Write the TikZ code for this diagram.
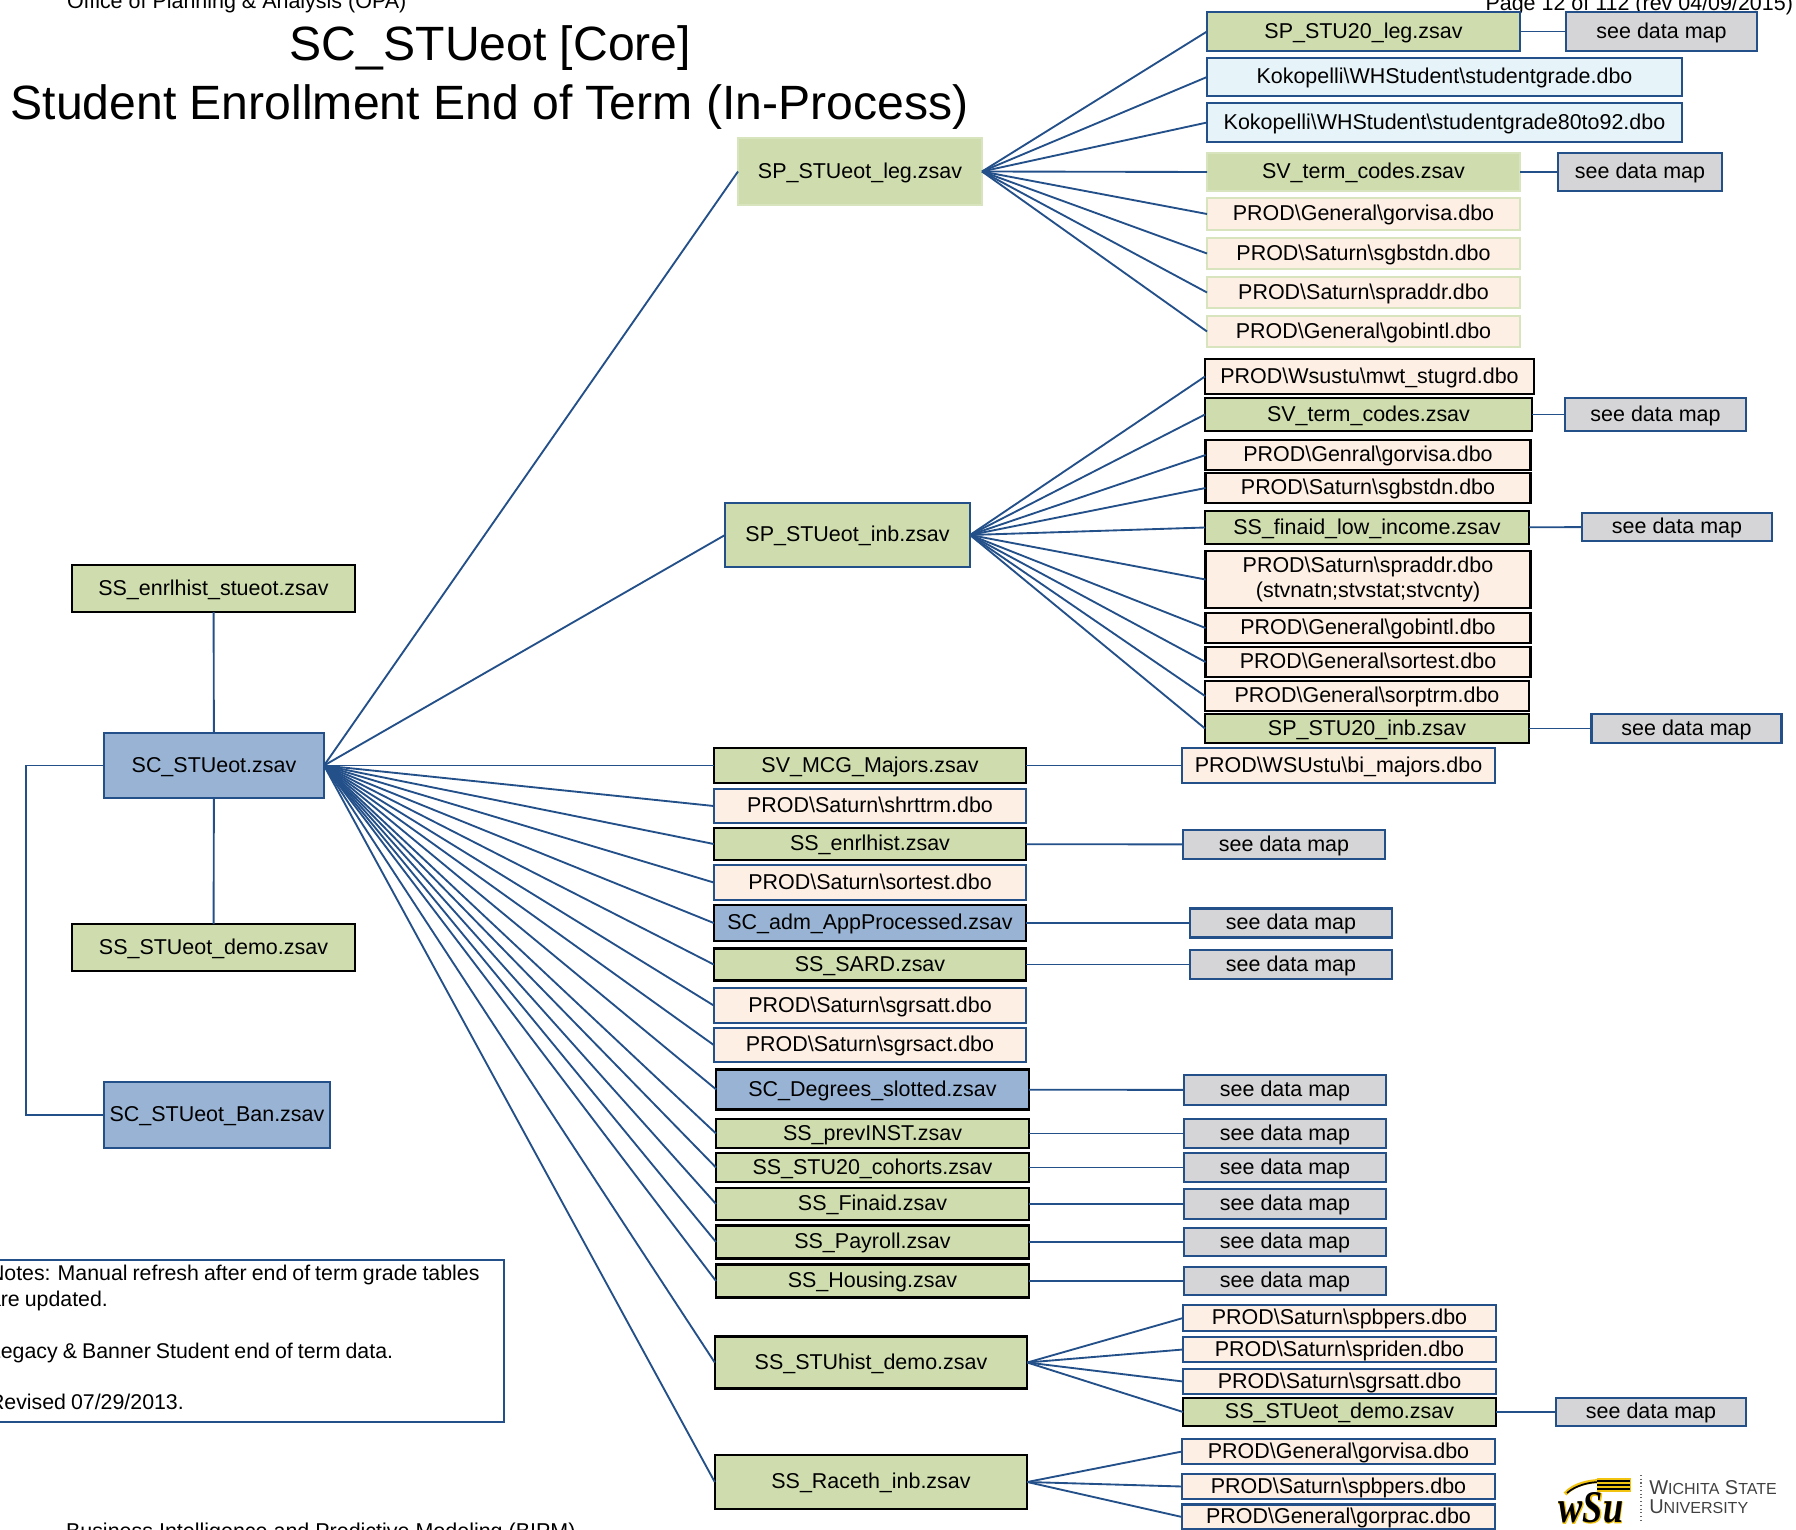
\documentclass[tikz,border=0pt]{standalone}
\usepackage{fontspec}
\setmainfont{Liberation Sans}
\newfontfamily\notesfont[WordSpace=0.85]{Liberation Sans}
\newfontfamily\wsuserif[FakeStretch=0.8]{Liberation Serif}
\newfontfamily\wsuhalo[FakeStretch=0.8,FakeBold=2.5]{Liberation Serif}
\usepackage{tikz}
\usetikzlibrary{arrows.meta}
\usetikzlibrary{calc}
\definecolor{linecol}{HTML}{24508A}
\definecolor{grnfill}{HTML}{CFDDAE}
\definecolor{orgfill}{HTML}{FDEFE3}
\definecolor{blufill}{HTML}{98B3D4}
\definecolor{skyfill}{HTML}{E6F3F8}
\definecolor{gryfill}{HTML}{D5D5D7}
\definecolor{palegrn}{HTML}{D8E4BE}
\definecolor{wsugold}{HTML}{F2C40F}
\newcommand{\bs}{\textbackslash}
\tikzset{
    sz/.style 2 args={minimum width=#1*0.75pt,minimum height=#2*0.75pt},
    tbl/.style={draw=linecol,line width=1.6pt,inner sep=0pt,outer sep=0pt,align=center,
        text height=11pt,text depth=1pt,font=\fontsize{16.1}{19}\selectfont},
    grn/.style={tbl,fill=grnfill},
    org/.style={tbl,fill=orgfill},
    blu/.style={tbl,fill=blufill},
    sky/.style={tbl,fill=skyfill},
    gry/.style={tbl,fill=gryfill},
    bk/.style={draw=black},
    pale/.style={draw=palegrn},
    multi/.style={text height={},text depth={}},
    plain/.style={inner sep=0pt,outer sep=0pt,font=\fontsize{16.1}{19}\selectfont}
}

\begin{document}
\begin{tikzpicture}[x=0.75pt,y=-0.75pt]
        \useasboundingbox (0,0) rectangle (1796,1530);

        \node[plain,anchor=base west] (office) at (67,8.5) {Office of Planning \& Analysis (OPA)};
        \node[plain,anchor=base east] (page) at (1793,11) {Page 12 of 112 (rev 04/09/2015)};
        \node[plain,anchor=base west] (bipm) at (66,1538) {Business Intelligence and Predictive Modeling (BIPM)};
        \node[plain,font=\fontsize{36.1}{36}\selectfont] (title) at (490.5,48.5) {SC\_STUeot [Core]};
        \node[plain,font=\fontsize{36.1}{36}\selectfont] (subtitle) at (489.5,107) {Student Enrollment End of Term (In-Process)};

        \node[grn,bk,sz={283}{47}] (enrlstu) at (213.5,588.5) {SS\_enrlhist\_stueot.zsav};
        \node[blu,sz={220}{65}] (core) at (214,765.5) {SC\_STUeot.zsav};
        \node[grn,bk,sz={283}{47}] (demo) at (213.5,947.5) {SS\_STUeot\_demo.zsav};
        \node[blu,sz={226}{66}] (ban) at (217,1115) {SC\_STUeot\_Ban.zsav};
        \coordinate (lft) at (26,765.5);

        \node[tbl,multi,sz={524}{162},text width=506*0.75pt,align=flush left,
            font=\notesfont\fontsize{16}{19.3}\selectfont] (notes) at (242,1341)
            {Notes: Manual refresh after end of term grade tables\\are updated.\\[19.3pt]Legacy \& Banner Student end of term data.\\[19.3pt]Revised 07/29/2013.\\[-14pt]\mbox{}};

        \node[grn,pale,sz={244}{67}] (leg) at (860,171.5) {SP\_STUeot\_leg.zsav};
        \node[grn,sz={313}{39}] (stulg) at (1363.5,31.5) {SP\_STU20\_leg.zsav};
        \node[gry,sz={191}{39}] (map1) at (1661.5,31.5) {see data map};
        \node[sky,sz={475}{38}] (koko1) at (1444.5,77) {Kokopelli\bs{}WHStudent\bs{}studentgrade.dbo};
        \node[sky,sz={475}{39}] (koko2) at (1444.5,122.5) {Kokopelli\bs{}WHStudent\bs{}studentgrade80to92.dbo};
        \node[grn,pale,sz={313}{38}] (lgterm) at (1363.5,172) {SV\_term\_codes.zsav};
        \node[gry,sz={164}{38}] (map2) at (1640,172) {see data map};
        \node[org,pale,sz={313}{32}] (lggorv) at (1363.5,214) {PROD\bs{}General\bs{}gorvisa.dbo};
        \node[org,pale,sz={313}{31}] (lgsgb) at (1363.5,253.5) {PROD\bs{}Saturn\bs{}sgbstdn.dbo};
        \node[org,pale,sz={313}{31}] (lgspr) at (1363.5,292.5) {PROD\bs{}Saturn\bs{}spraddr.dbo};
        \node[org,pale,sz={313}{31}] (lggob) at (1363.5,331.5) {PROD\bs{}General\bs{}gobintl.dbo};

        \node[grn,sz={245}{64}] (inb) at (847.5,535) {SP\_STUeot\_inb.zsav};
        \node[org,bk,sz={329}{35}] (wsu) at (1369.5,376.5) {PROD\bs{}Wsustu\bs{}mwt\_stugrd.dbo};
        \node[grn,bk,sz={327}{33}] (ibterm) at (1368.5,414.5) {SV\_term\_codes.zsav};
        \node[gry,sz={181}{33}] (map3) at (1655.5,414.5) {see data map};
        \node[org,bk,sz={325}{30}] (ibgorv) at (1368,455) {PROD\bs{}Genral\bs{}gorvisa.dbo};
        \node[org,bk,sz={325}{30}] (ibsgb) at (1368,488) {PROD\bs{}Saturn\bs{}sgbstdn.dbo};
        \node[grn,bk,sz={324}{33}] (low) at (1367,527.5) {SS\_finaid\_low\_income.zsav};
        \node[gry,sz={190}{28}] (map4) at (1677,527) {see data map};
        \node[org,bk,multi,sz={325}{57}] (ibspr) at (1368,579.5) {PROD\bs{}Saturn\bs{}spraddr.dbo\\(stvnatn;stvstat;stvcnty)};
        \node[org,bk,sz={325}{30}] (ibgob) at (1368,628) {PROD\bs{}General\bs{}gobintl.dbo};
        \node[org,bk,sz={325}{30}] (ibsrt) at (1368,662) {PROD\bs{}General\bs{}sortest.dbo};
        \node[org,bk,sz={324}{30}] (ibtrm) at (1367,696) {PROD\bs{}General\bs{}sorptrm.dbo};
        \node[grn,bk,sz={324}{29}] (stuib) at (1367,728.5) {SP\_STU20\_inb.zsav};
        \node[gry,sz={190}{29}] (map5) at (1686.5,728.5) {see data map};

        \node[grn,bk,sz={312.5}{35}] (mcg) at (870,765.5) {SV\_MCG\_Majors.zsav};
        \node[org,sz={313}{35}] (majors) at (1338.5,765.5) {PROD\bs{}WSUstu\bs{}bi\_majors.dbo};
        \node[org,sz={312.5}{34}] (shrt) at (870,806) {PROD\bs{}Saturn\bs{}shrttrm.dbo};
        \node[grn,bk,sz={312.5}{32}] (enrl) at (870,844) {SS\_enrlhist.zsav};
        \node[gry,sz={202}{29}] (map6) at (1284,844.5) {see data map};
        \node[org,sz={312.5}{35}] (srt) at (870,882.5) {PROD\bs{}Saturn\bs{}sortest.dbo};
        \node[blu,bk,sz={312.5}{36}] (adm) at (870,923) {SC\_adm\_AppProcessed.zsav};
        \node[gry,sz={202}{29}] (map7) at (1291,923) {see data map};
        \node[grn,bk,sz={312.5}{32}] (sard) at (870,964.5) {SS\_SARD.zsav};
        \node[gry,sz={202}{29}] (map8) at (1291,964.5) {see data map};
        \node[org,sz={312.5}{35}] (satt) at (870,1005.5) {PROD\bs{}Saturn\bs{}sgrsatt.dbo};
        \node[org,sz={312.5}{34}] (sact) at (870,1045) {PROD\bs{}Saturn\bs{}sgrsact.dbo};
        \node[blu,bk,sz={312.5}{40}] (deg) at (872.5,1089.5) {SC\_Degrees\_slotted.zsav};
        \node[gry,sz={202}{30}] (map9) at (1285,1090) {see data map};
        \node[grn,bk,sz={313}{29}] (prev) at (872.5,1133.5) {SS\_prevINST.zsav};
        \node[gry,sz={202}{29}] (map10) at (1285,1133.5) {see data map};
        \node[grn,bk,sz={313}{29}] (coh) at (872.5,1167.5) {SS\_STU20\_cohorts.zsav};
        \node[gry,sz={202}{29}] (map11) at (1285,1167.5) {see data map};
        \node[grn,bk,sz={313}{32}] (fin) at (872.5,1204) {SS\_Finaid.zsav};
        \node[gry,sz={202}{30}] (map12) at (1285,1204) {see data map};
        \node[grn,bk,sz={313}{33}] (pay) at (872.5,1242) {SS\_Payroll.zsav};
        \node[gry,sz={202}{28}] (map13) at (1285,1242) {see data map};
        \node[grn,bk,sz={313}{33}] (hou) at (872.5,1281) {SS\_Housing.zsav};
        \node[gry,sz={202}{28}] (map14) at (1285,1281) {see data map};

        \node[grn,bk,sz={312.5}{52}] (hist) at (871,1362.5) {SS\_STUhist\_demo.zsav};
        \node[org,sz={313}{26}] (hspb) at (1339.5,1318) {PROD\bs{}Saturn\bs{}spbpers.dbo};
        \node[org,sz={313}{25}] (hspr) at (1339.5,1349.5) {PROD\bs{}Saturn\bs{}spriden.dbo};
        \node[org,sz={313}{25}] (hsat) at (1339.5,1381.5) {PROD\bs{}Saturn\bs{}sgrsatt.dbo};
        \node[grn,bk,sz={313}{28}] (hdem) at (1339.5,1412) {SS\_STUeot\_demo.zsav};
        \node[gry,sz={190}{28}] (map15) at (1651,1412) {see data map};

        \node[grn,bk,sz={312.5}{54}] (race) at (871,1482) {SS\_Raceth\_inb.zsav};
        \node[org,sz={313}{25}] (rgor) at (1338.5,1451.5) {PROD\bs{}General\bs{}gorvisa.dbo};
        \node[org,sz={313}{25}] (rspb) at (1338.5,1486.5) {PROD\bs{}Saturn\bs{}spbpers.dbo};
        \node[org,sz={313}{25}] (rpra) at (1338.5,1517) {PROD\bs{}General\bs{}gorprac.dbo};

        \begin{scope}[every edge/.style={draw=linecol,line width=1.4pt}]
            \path (core) edge (enrlstu);
            \path (core) edge (demo);
            \path (core.east) edge (leg.west);
            \path (core.east) edge (inb.west);
            \path (core.east) edge (mcg.west);
            \path (core.east) edge (shrt.west);
            \path (core.east) edge (enrl.west);
            \path (core.east) edge (srt.west);
            \path (core.east) edge (adm.west);
            \path (core.east) edge (sard.west);
            \path (core.east) edge (satt.west);
            \path (core.east) edge (sact.west);
            \path (core.east) edge (deg.west);
            \path (core.east) edge (prev.west);
            \path (core.east) edge (coh.west);
            \path (core.east) edge (fin.west);
            \path (core.east) edge (pay.west);
            \path (core.east) edge (hou.west);
            \path (core.east) edge (hist.west);
            \path (core.east) edge (race.west);

            \path (leg.east) edge (stulg.west);
            \path (leg.east) edge (koko1.west);
            \path (leg.east) edge (koko2.west);
            \path (leg.east) edge (lgterm.west);
            \path (leg.east) edge (lggorv.west);
            \path (leg.east) edge (lgsgb.west);
            \path (leg.east) edge (lgspr.west);
            \path (leg.east) edge (lggob.west);

            \path (inb.east) edge (wsu.west);
            \path (inb.east) edge (ibterm.west);
            \path (inb.east) edge (ibgorv.west);
            \path (inb.east) edge (ibsgb.west);
            \path (inb.east) edge (low.west);
            \path (inb.east) edge (ibspr.west);
            \path (inb.east) edge (ibgob.west);
            \path (inb.east) edge (ibsrt.west);
            \path (inb.east) edge (ibtrm.west);
            \path (inb.east) edge (stuib.west);

            \path (hist.east) edge (hspb.west);
            \path (hist.east) edge (hspr.west);
            \path (hist.east) edge (hsat.west);
            \path (hist.east) edge (hdem.west);
            \path (race.east) edge (rgor.west);
            \path (race.east) edge (rspb.west);
            \path (race.east) edge (rpra.west);

            \path (stulg) edge (map1);
            \path (lgterm) edge (map2);
            \path (ibterm) edge (map3);
            \path (low) edge (map4);
            \path (stuib) edge (map5);
            \path (mcg) edge (majors);
            \path (enrl) edge (map6);
            \path (adm) edge (map7);
            \path (sard) edge (map8);
            \path (deg) edge (map9);
            \path (prev) edge (map10);
            \path (coh) edge (map11);
            \path (fin) edge (map12);
            \path (pay) edge (map13);
            \path (hou) edge (map14);
            \path (hdem) edge (map15);
        \end{scope}
        \draw[draw=linecol,line width=1.4pt] (core.west) -- (lft) |- (ban.west);

        \draw[wsugold,line width=3pt] (1565,1494) .. controls (1574,1484) and (1590,1481) .. (1600,1481);
        \draw[black,line width=1.3pt] (1567,1493) .. controls (1576,1485) and (1590,1482) .. (1600,1482);
        \draw[wsugold,line width=10pt] (1597,1485) -- (1631,1485);
        \draw[black,line width=1.2pt] (1597,1481) -- (1630,1481);
        \draw[black,line width=1.2pt] (1597,1485) -- (1630,1485);
        \draw[black,line width=1.2pt] (1597,1489) -- (1630,1489);
        \node[inner sep=0pt,text=wsugold,font=\wsuhalo\bfseries\itshape\fontsize{34}{34}\selectfont] (wsuglow) at (1591,1508) {wSu};
        \node[inner sep=0pt,text=black,font=\wsuserif\bfseries\itshape\fontsize{34}{34}\selectfont] (wsumark) at (1591,1508) {wSu};
        \draw[black!60,line width=0.8pt,dotted] (1641,1475) -- (1641,1520);
        \node[inner sep=0pt,anchor=base west,text=black!75,font=\fontsize{15}{15}\selectfont] (wsuname) at (1649,1494)
            {W\scalebox{0.8}{ICHITA} S\scalebox{0.8}{TATE}};
        \node[inner sep=0pt,anchor=base west,text=black!75,font=\fontsize{15}{15}\selectfont] (wsuuniv) at (1649,1513)
            {U\scalebox{0.8}{NIVERSITY}};
    \end{tikzpicture}
\end{document}
